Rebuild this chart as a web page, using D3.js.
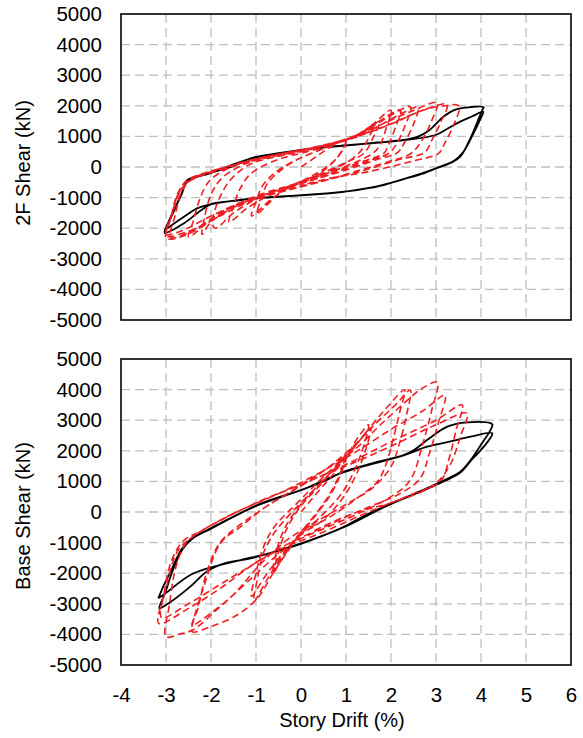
<!DOCTYPE html>
<html>
<head>
<meta charset="utf-8">
<script src="https://cdn.jsdelivr.net/npm/d3@7"></script>
<style>
  html, body { margin: 0; padding: 0; background: #fff; }
  svg { display: block; }
  text { font-family: "Liberation Sans", Arial, sans-serif; fill: #000; }
</style>
</head>
<body>
<svg id="chart" width="583" height="738"></svg>
<script>
// Axis ticks
const driftTicks = [-4, -3, -2, -1, 0, 1, 2, 3, 4, 5, 6];
const shearTicks = [5000, 4000, 3000, 2000, 1000, 0, -1000, -2000, -3000, -4000, -5000];

// 2F shear — analysis (solid black), drift % vs kN
const topAnalysis = [
  [-3.03,-2080],[-2.9,-1650],[-2.79,-1300],[-2.65,-850],[-2.53,-430],[-2.38,-338],[-2.01,-190],
  [-1.5,30],[-1.12,283],[-0.5,450],[0,560],[0.5,650],[1.1,720],[1.7,800],[2.28,882],[2.6,990],
  [2.85,1200],[3.17,1650],[3.4,1860],[3.6,1930],[4.06,1950],[4.03,1870],[3.9,1400],[3.72,800],
  [3.54,340],[3.35,150],[3.0,-50],[2.73,-206],[2.2,-430],[1.69,-643],[1.2,-760],[0.8,-840],
  [0,-930],[-0.97,-1023],[-1.5,-1110],[-1.97,-1200],[-2.23,-1420],[-2.6,-1840],[-3.03,-2150],
  [-2.92,-1750],[-2.79,-1330],[-2.65,-880],[-2.53,-450],[-2.38,-350],[-2.01,-200],[-1.12,270],
  [0,550],[1.1,715],[2.28,875],[2.99,1046],[3.25,1250],[3.54,1481],[3.8,1650],[4.05,1808],
  [3.98,1550],[3.8,1000],[3.6,480],[3.4,200],[3.0,-40],[2.7,-200],[1.69,-630],[0.8,-830],
  [0,-920],[-0.97,-1015],[-2.01,-1220],[-2.31,-1351],[-2.6,-1624],[-3.03,-2060]
];

// 2F shear — test (dashed red), two cycles per drift level
const topTest = [
  [0,0],[0.3,300],[0.6,600],[1.0,900],
  [0.85,400],[0.6,0],[0.2,-400],[-0.3,-700],[-0.7,-1100],[-1.1,-1600],
  [-1.0,-1150],[-0.85,-600],[-0.5,-100],[0,300],[0.5,600],[1.0,880],
  [0.85,380],[0.55,-20],[0.1,-400],[-0.4,-750],[-0.97,-1514],
  [-0.9,-1100],[-0.75,-550],[-0.4,-50],[0,300],[0.5,600],[1.0,900],[1.3,1100],[1.6,1350],
  [1.45,800],[1.25,400],[0.9,50],[0.3,-350],[-0.3,-700],[-0.8,-1000],[-1.2,-1350],[-1.6,-1800],
  [-1.5,-1300],[-1.35,-700],[-1.1,-200],[-0.5,250],[0,450],[0.6,680],[1.1,950],[1.5,1250],[1.75,1500],
  [1.6,950],[1.4,450],[1.0,150],[0.3,-300],[-0.4,-700],[-1.0,-1050],[-1.5,-1500],[-1.9,-2000],
  [-1.97,-1840],[-1.83,-1078],[-1.57,-425],[-1.12,100],[-0.5,350],[0,500],[0.6,720],[1.2,1000],[1.6,1400],[2.0,1860],
  [1.9,1300],[1.75,700],[1.6,450],[1.2,150],[0.5,-250],[-0.2,-600],[-0.8,-900],[-1.4,-1250],[-2.0,-1800],[-2.2,-2200],
  [-2.15,-1700],[-2.0,-900],[-1.75,-350],[-1.2,120],[-0.5,380],[0.2,580],[0.9,840],[1.5,1250],[1.9,1650],[2.21,1863],
  [2.1,1300],[1.95,750],[1.84,447],[1.4,200],[0.6,-200],[-0.2,-580],[-1.0,-950],[-1.8,-1500],[-2.5,-2280],
  [-2.4,-1800],[-2.27,-1133],[-2.05,-480],[-1.6,-30],[-0.8,330],[0,540],[0.8,820],[1.4,1150],[1.9,1600],[2.43,1970],
  [2.3,1300],[2.1,700],[1.95,450],[1.5,200],[0.8,-150],[0,-550],[-0.8,-900],[-1.5,-1300],[-2.2,-1950],[-2.6,-2250],[-3.0,-2330],
  [-2.9,-1700],[-2.75,-900],[-2.55,-450],[-2.2,-220],[-1.5,60],[-0.5,420],[0.5,690],[1.2,960],[1.8,1400],[2.3,1800],[2.6,1950],
  [2.5,1400],[2.3,800],[2.15,480],[1.7,250],[1.0,-100],[0.2,-450],[-0.6,-800],[-1.3,-1150],[-2.0,-1700],[-2.5,-2150],[-2.9,-2300],
  [-2.8,-1600],[-2.65,-800],[-2.45,-420],[-2.0,-190],[-1.0,250],[0,540],[1.0,910],[1.8,1400],[2.5,1850],[3.03,2100],
  [2.9,1500],[2.7,900],[2.45,450],[2.0,200],[1.2,-150],[0.4,-500],[-0.4,-800],[-1.1,-1100],[-1.8,-1600],[-2.5,-2100],[-3.0,-2250],
  [-2.88,-1600],[-2.7,-800],[-2.4,-380],[-1.8,-60],[-1.0,270],[0,560],[1.0,900],[1.8,1300],[2.6,1800],[2.9,1950],[3.25,2050],
  [3.1,1450],[2.9,850],[2.75,480],[2.2,250],[1.3,-150],[0.5,-450],[-0.5,-800],[-1.3,-1150],[-2.0,-1600],[-2.6,-2050],[-3.0,-2200],
  [-2.85,-1500],[-2.65,-700],[-2.35,-360],[-1.5,50],[0,540],[1.0,880],[2.0,1400],[2.7,1850],[3.1,1980],[3.51,1993],
  [3.4,1400],[3.2,800],[3.06,447],[2.5,200],[1.5,-150],[0.66,-360],[0,-600]
];

// Base shear — analysis (solid black)
const baseAnalysis = [
  [-3.17,-2820],[-3.05,-2400],[-2.9,-1950],[-2.64,-1187],[-2.42,-860],[-2.01,-533],[-1.5,-150],
  [-0.97,229],[-0.5,480],[0,719],[0.5,1000],[0.95,1317],[1.6,1600],[2.28,1863],[2.51,2026],
  [2.8,2350],[3.25,2788],[3.69,2930],[4.25,2865],[4.2,2650],[4.0,2200],[3.8,1755],[3.54,1317],
  [3.2,1050],[2.88,827],[2.4,520],[1.92,229],[1.4,-130],[0.95,-480],[0.5,-760],[0,-1023],
  [-0.6,-1300],[-1.12,-1514],[-1.7,-1677],[-2.1,-1950],[-2.46,-2440],[-3.01,-3050],[-3.15,-3150],
  [-3.02,-2650],[-2.86,-1950],[-2.64,-1230],[-2.42,-880],[-2.01,-550],[-0.97,215],[0,710],
  [0.95,1300],[2.28,1850],[2.8,2134],[3.3,2300],[3.77,2461],[4.25,2572],[4.15,2300],[3.95,1950],
  [3.8,1720],[3.54,1290],[3.2,1020],[2.88,800],[1.92,210],[0.95,-500],[0,-1040],[-0.7,-1350],
  [-1.34,-1569],[-1.94,-1787],[-2.46,-2059],[-3.01,-2657],[-3.17,-2820]
];

// Base shear — test (dashed red), two cycles per drift level
const baseTest = [
  [0,0],[0.4,700],[0.8,1400],[1.0,1900],
  [0.85,1200],[0.6,500],[0.2,-300],[-0.2,-1000],[-0.45,-1500],[-0.6,-1950],
  [-0.5,-1300],[-0.3,-500],[0,200],[0.5,1000],[0.9,1700],[1.05,2000],
  [0.9,1300],[0.65,550],[0.25,-250],[-0.15,-950],[-0.45,-1600],[-0.62,-2000],
  [-0.55,-1300],[-0.35,-500],[0,250],[0.5,1050],[1.0,1800],[1.25,2400],[1.5,2850],
  [1.4,2200],[1.2,1400],[0.9,600],[0.4,-200],[0,-700],[-0.4,-1400],[-0.75,-2200],[-1.05,-2930],
  [-0.97,-2200],[-0.85,-1400],[-0.6,-700],[-0.2,0],[0.3,750],[0.8,1500],[1.2,2150],[1.55,2750],
  [1.45,2100],[1.25,1300],[0.95,500],[0.5,-250],[0,-750],[-0.4,-1350],[-0.75,-2000],[-1.1,-2750],
  [-1.0,-2000],[-0.85,-1200],[-0.6,-500],[-0.08,300],[0.5,1150],[1.1,1971],[1.5,2700],[1.9,3400],[2.3,3990],
  [2.2,3300],[2.05,2400],[1.9,1600],[1.7,1000],[1.2,400],[0.6,-200],[0,-700],[-0.3,-1300],[-0.6,-1950],
  [-0.97,-2820],[-1.42,-3366],[-2.01,-3748],[-2.42,-3911],
  [-2.38,-3500],[-2.16,-2441],[-1.79,-1023],[-1.34,-480],[-0.8,150],[0,850],[0.6,1450],[1.2,2200],[1.7,2950],[2.1,3500],[2.43,3987],
  [2.35,3200],[2.2,2300],[2.0,1480],[1.6,800],[1.0,250],[0.3,-350],[-0.3,-900],[-0.9,-1700],[-1.5,-2700],[-2.0,-3300],[-2.42,-3700],
  [-2.3,-3200],[-2.1,-2000],[-1.8,-1000],[-1.34,-400],[-0.8,150],[0,880],[0.6,1450],[1.2,2050],[1.8,2900],[2.4,3700],[2.7,4050],[3.03,4240],
  [2.9,3300],[2.7,2200],[2.43,1046],[2.0,500],[1.2,-100],[0.5,-550],[-0.1,-950],[-0.6,-1500],[-1.2,-2300],[-1.8,-3100],[-2.4,-3850],[-2.7,-3990],[-3.0,-4075],
  [-2.92,-3000],[-2.78,-1800],[-2.55,-1000],[-2.3,-700],[-1.5,-50],[-0.5,600],[0.5,1350],[1.2,1950],[2.0,2700],[2.7,3300],[3.2,3820],
  [3.05,2900],[2.85,1900],[2.65,1100],[2.2,600],[1.4,100],[0.5,-500],[-0.3,-1050],[-1.0,-1650],[-1.8,-2500],[-2.5,-3150],[-3.16,-3640],
  [-3.05,-2700],[-2.88,-1600],[-2.62,-950],[-2.2,-600],[-1.0,300],[0,900],[1.0,1550],[2.0,2300],[3.0,3000],[3.58,3497],
  [3.45,2700],[3.3,1800],[3.1,1000],[2.5,600],[1.5,0],[0.5,-650],[-0.5,-1250],[-1.5,-2100],[-2.5,-3000],[-3.1,-3450],
  [-2.98,-2400],[-2.75,-1300],[-2.45,-850],[-1.5,-50],[0,900],[1.0,1500],[2,2150],[3.0,2850],[3.69,3225],
  [3.55,2500],[3.3,1500],[2.95,882],[2.0,300],[1.17,-42],[0.3,-600]
];

const svg = d3.select("#chart");
const left = 121, right = 571;
const x = d3.scaleLinear().domain([-4, 6]).range([left, right]);

const panels = [
  { top: 14, bottom: 320, title: "2F Shear (kN)", titleY: 163, analysis: topAnalysis, test: topTest, xLabels: false },
  { top: 359, bottom: 665, title: "Base Shear (kN)", titleY: 516, analysis: baseAnalysis, test: baseTest, xLabels: true }
];

const fontSize = "20.5px";
const plain = d => String(d);   // hyphen-minus, as in the printed labels

panels.forEach(p => {
  const y = d3.scaleLinear().domain([-5000, 5000]).range([p.bottom, p.top]);
  const g = svg.append("g");

  // dashed grid
  const grid = g.append("g").attr("stroke", "#bfbfbf").attr("stroke-width", 1.3)
    .attr("stroke-dasharray", "9,5").attr("fill", "none");
  grid.selectAll("line.v").data(driftTicks.slice(1, -1)).join("line")
    .attr("x1", d => x(d)).attr("x2", d => x(d))
    .attr("y1", p.top).attr("y2", p.bottom);
  grid.selectAll("line.h").data(shearTicks.slice(1, -1)).join("line")
    .attr("x1", left).attr("x2", right)
    .attr("y1", d => y(d)).attr("y2", d => y(d));

  // y axis labels
  const yAxis = d3.axisLeft(y).tickValues(shearTicks).tickSize(0).tickPadding(19)
    .tickFormat(plain);
  g.append("g").attr("transform", `translate(${left},0)`).call(yAxis)
    .call(a => a.select(".domain").remove())
    .selectAll("text").style("font-size", fontSize)
    .style("font-family", "'Liberation Sans', Arial, sans-serif").attr("fill", "#000");

  if (p.xLabels) {
    const xAxis = d3.axisBottom(x).tickValues(driftTicks).tickSize(0).tickPadding(22)
      .tickFormat(plain);
    g.append("g").attr("transform", `translate(0,${p.bottom})`).call(xAxis)
      .call(a => a.select(".domain").remove())
      .selectAll("text").style("font-size", fontSize)
      .style("font-family", "'Liberation Sans', Arial, sans-serif").attr("fill", "#000");
  }

  // y title
  g.append("text")
    .attr("transform", `translate(30,${p.titleY}) rotate(-90)`)
    .attr("text-anchor", "middle").style("font-size", "20px")
    .text(p.title);

  const line = d3.line().x(d => x(d[0])).y(d => y(d[1]))
    .curve(d3.curveCatmullRom.alpha(0.5));

  g.append("path").datum(p.analysis).attr("d", line)
    .attr("fill", "none").attr("stroke", "#000").attr("stroke-width", 1.8)
    .attr("stroke-linejoin", "round");

  g.append("path").datum(p.test).attr("d", line)
    .attr("fill", "none").attr("stroke", "#ee1f24").attr("stroke-width", 1.6)
    .attr("stroke-dasharray", "7,4").attr("stroke-linejoin", "round");

  // frame
  g.append("rect").attr("x", left).attr("y", p.top)
    .attr("width", right - left).attr("height", p.bottom - p.top)
    .attr("fill", "none").attr("stroke", "#000").attr("stroke-width", 1.6);
});

svg.append("text")
  .attr("x", 342).attr("y", 727)
  .attr("text-anchor", "middle").style("font-size", "20px")
  .text("Story Drift (%)");
</script>
</body>
</html>
